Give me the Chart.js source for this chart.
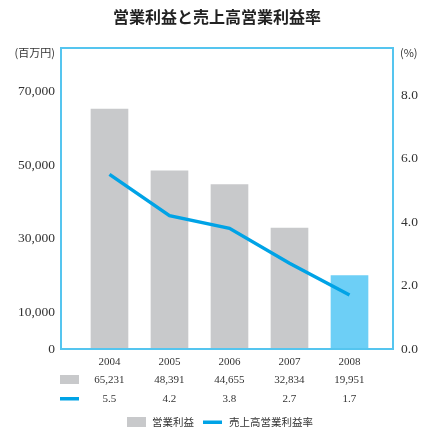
<!DOCTYPE html>
<html lang="ja">
<head>
<meta charset="utf-8">
<title>営業利益と売上高営業利益率</title>
<script src="https://cdn.jsdelivr.net/npm/chart.js@4"></script>
<style>
  html, body { margin: 0; padding: 0; background: #fff; }
</style>
</head>
<body>
<canvas id="profit-chart" width="423" height="430"></canvas>
<script>
// Fiscal years and figures
const years = ['2004', '2005', '2006', '2007', '2008'];
const operatingProfit = [65231, 48391, 44655, 32834, 19951]; // 百万円
const profitMargin = [5.5, 4.2, 3.8, 2.7, 1.7];             // %
const profitTicks = [0, 10000, 30000, 50000, 70000];
const marginTicks = [0, 2, 4, 6, 8];

// Colours and fonts
const GRAY = '#c8c9cb';
const LIGHT_BLUE = '#6dcff6';
const LINE_BLUE = '#00a3e6';
const FRAME_BLUE = '#55c5ef';
const TEXT = '#333333';
const SERIF = "'Liberation Serif', 'DejaVu Serif', serif";
const JP = "'Noto Sans CJK JP', sans-serif";

const ctx = document.getElementById('profit-chart').getContext('2d');

// Frame, title, units, data table and legend
const extras = {
  id: 'extras',
  afterDraw(chart) {
    const { ctx, chartArea: area, scales: { x } } = chart;
    ctx.save();

    ctx.strokeStyle = FRAME_BLUE;
    ctx.lineWidth = 2;
    ctx.strokeRect(area.left, area.top, area.right - area.left, area.bottom - area.top);

    ctx.fillStyle = '#222';
    ctx.font = `bold 16px ${JP}`;
    ctx.textAlign = 'center';
    ctx.textBaseline = 'middle';
    ctx.fillText('営業利益と売上高営業利益率', 217, 17);

    ctx.fillStyle = TEXT;
    ctx.font = `11px ${JP}`;
    ctx.textAlign = 'right';
    ctx.fillText('(百万円)', area.left - 6, area.top + 5);
    ctx.textAlign = 'left';
    ctx.fillText('(%)', area.right + 7, area.top + 5);

    // table rows under the years
    ctx.font = `11px ${SERIF}`;
    ctx.textAlign = 'center';
    years.forEach((yr, i) => {
      const px = x.getPixelForValue(i);
      ctx.fillText(operatingProfit[i].toLocaleString('en-US'), px, 380);
      ctx.fillText(profitMargin[i].toFixed(1), px, 399);
    });
    ctx.fillStyle = GRAY;
    ctx.fillRect(60, 375, 19, 9);
    ctx.fillStyle = LINE_BLUE;
    ctx.fillRect(60, 397, 19, 3.5);

    // legend
    ctx.fillStyle = GRAY;
    ctx.fillRect(127, 417, 19, 10);
    ctx.fillStyle = LINE_BLUE;
    ctx.fillRect(203, 420.5, 19, 3.5);
    ctx.fillStyle = TEXT;
    ctx.font = `10.5px ${JP}`;
    ctx.textAlign = 'left';
    ctx.fillText('営業利益', 152, 422);
    ctx.fillText('売上高営業利益率', 229, 422);

    ctx.restore();
  }
};

const chart = new Chart(ctx, {
  type: 'bar',
  data: {
    datasets: [
      {
        type: 'line',
        label: '売上高営業利益率',
        data: profitMargin.map((v, i) => ({ x: i, y: v })),
        yAxisID: 'y2',
        borderColor: LINE_BLUE,
        borderWidth: 3.5,
        pointRadius: 0,
        tension: 0,
        fill: false,
        order: 0,
      },
      {
        label: '営業利益',
        data: operatingProfit.map((v, i) => ({ x: i, y: v })),
        yAxisID: 'y',
        backgroundColor: operatingProfit.map((v, i) => (i === operatingProfit.length - 1 ? LIGHT_BLUE : GRAY)),
        barThickness: 37,
        order: 1,
      },
    ],
  },
  options: {
    responsive: false,
    animation: false,
    layout: { padding: { top: 48, left: 0, right: 0, bottom: 0 } },
    plugins: {
      legend: { display: false },
      title: { display: false },
      tooltip: { enabled: false },
    },
    scales: {
      x: {
        type: 'linear',
        offset: false,
        min: -0.808,
        max: 4.725,
        grid: { display: false, drawTicks: false, offset: false },
        border: { display: false },
        afterBuildTicks: (s) => { s.ticks = years.map((yr, i) => ({ value: i })); },
        afterFit: (s) => { s.height = 81; },
        ticks: {
          padding: 7,
          color: TEXT,
          font: { family: SERIF, size: 11 },
          callback: (v) => years[v],
        },
      },
      y: {
        type: 'linear',
        position: 'left',
        min: 0,
        max: 81800,
        grid: { display: false, drawTicks: false },
        border: { display: false },
        afterBuildTicks: (s) => { s.ticks = profitTicks.map((v) => ({ value: v })); },
        afterFit: (s) => { s.width = 61; },
        ticks: {
          padding: 6,
          color: TEXT,
          font: { family: SERIF, size: 13.5 },
          callback: (v) => v.toLocaleString('en-US'),
        },
      },
      y2: {
        type: 'linear',
        position: 'right',
        min: 0,
        max: 9.48,
        grid: { display: false, drawTicks: false },
        border: { display: false },
        afterBuildTicks: (s) => { s.ticks = marginTicks.map((v) => ({ value: v })); },
        afterFit: (s) => { s.width = 30; },
        ticks: {
          padding: 8,
          color: TEXT,
          font: { family: SERIF, size: 13.5 },
          callback: (v) => v.toFixed(1),
        },
      },
    },
  },
  plugins: [extras],
});
</script>
</body>
</html>
